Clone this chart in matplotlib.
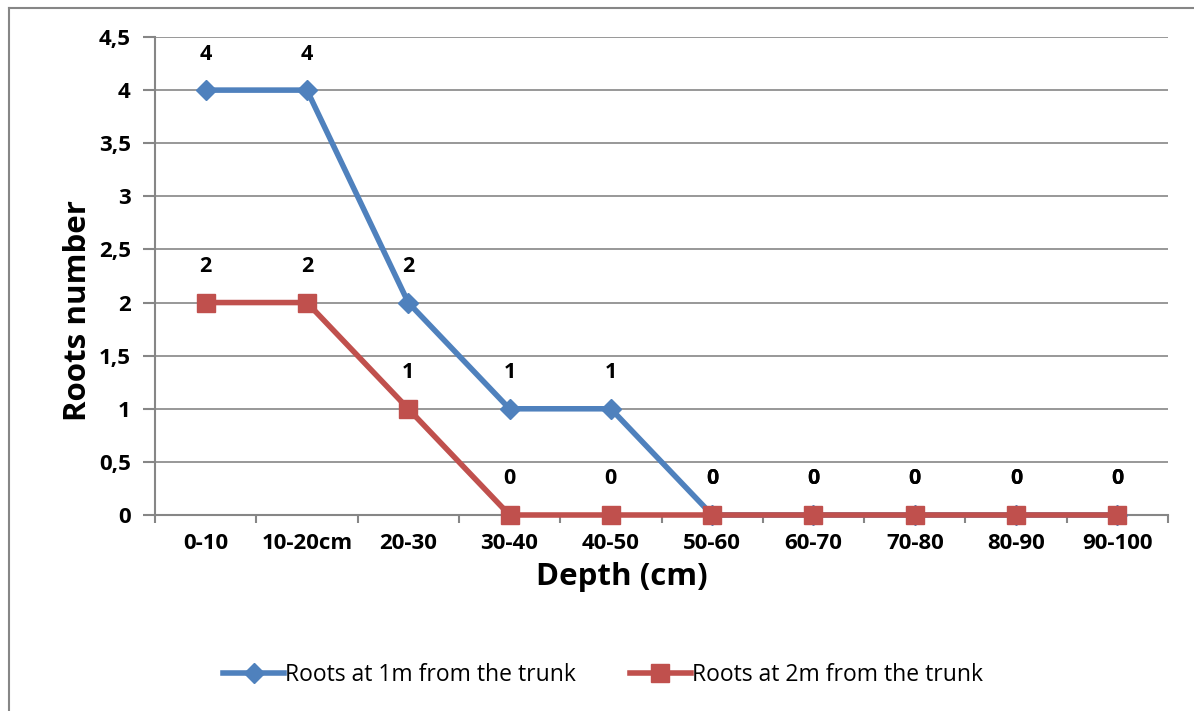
import numpy as np
from matplotlib import pyplot as plt
from matplotlib.lines import Line2D

# chart data
depths = ['0-10', '10-20cm', '20-30', '30-40', '40-50', '50-60', '60-70', '70-80', '80-90', '90-100']
roots_1m = [4, 4, 2, 1, 1, 0, 0, 0, 0, 0]
roots_2m = [2, 2, 1, 0, 0, 0, 0, 0, 0, 0]
y_ticks = [0, 0.5, 1, 1.5, 2, 2.5, 3, 3.5, 4, 4.5]

BLUE = '#4F81BD'
RED = '#C0504D'
GRID = '#868686'

plt.rcParams['font.family'] = ['Open Sans', 'DejaVu Sans']

fig = plt.figure(figsize=(11.94, 7.11), dpi=100)
ax = fig.add_axes([155 / 1194, 1 - 515 / 711, (1168 - 155) / 1194, (515 - 37) / 711])

x = np.arange(len(depths))
ax.plot(x, roots_1m, color=BLUE, lw=4, marker='D', ms=10, label='Roots at 1m from the trunk',
        zorder=3, clip_on=False)
ax.plot(x, roots_2m, color=RED, lw=4, marker='s', ms=13.5, label='Roots at 2m from the trunk',
        zorder=4, clip_on=False)

# value labels above points
for series in (roots_1m, roots_2m):
    for xi, v in zip(x, series):
        ax.annotate(str(v), (xi, v), xytext=(0, 26), textcoords='offset points',
                    ha='center', va='center', fontsize=15.5, fontweight='bold')

ax.set_xlim(-0.5, len(depths) - 0.5)
ax.set_ylim(0, 4.5)
ax.set_yticks(y_ticks)
ax.set_yticklabels([('%g' % t).replace('.', ',') for t in y_ticks], fontsize=16, fontweight='bold')
ax.set_xticks(x)
ax.set_xticklabels(depths, fontsize=16, fontweight='bold')
ax.set_xticks(np.arange(-0.5, len(depths)), minor=True)
ax.tick_params(axis='x', which='major', length=0, pad=13)
ax.tick_params(axis='x', which='minor', length=6, color=GRID, width=1.5)
ax.tick_params(axis='y', length=8.5, color=GRID, width=1.5, pad=9)

ax.grid(axis='y', color=GRID, lw=1.2)
ax.set_axisbelow(True)
for s in ['top', 'right']:
    ax.spines[s].set_visible(False)
for s in ['left', 'bottom']:
    ax.spines[s].set_color(GRID)
    ax.spines[s].set_linewidth(1.5)

fig.text(622 / 1194, 1 - 577 / 711, 'Depth (cm)', ha='center', va='center',
         fontsize=22.5, fontweight='bold')
fig.text(78 / 1194, 1 - 310 / 711, 'Roots number', ha='center', va='center',
         rotation=90, fontsize=22.5, fontweight='bold')

fig.legend(loc='center', bbox_to_anchor=(0.505, 1 - 675 / 711), ncol=2, frameon=False,
           fontsize=16.5, handlelength=2.65, handletextpad=0.05, columnspacing=2.35)

# chart frame: only top and left edges are visible in the crop
fig.add_artist(Line2D([9 / 1194, 1], [1 - 7.5 / 711, 1 - 7.5 / 711], transform=fig.transFigure,
                      color=GRID, lw=1.5))
fig.add_artist(Line2D([9 / 1194, 9 / 1194], [0, 1 - 7.5 / 711], transform=fig.transFigure,
                      color=GRID, lw=1.5))

fig.savefig('out.png', dpi=100)
